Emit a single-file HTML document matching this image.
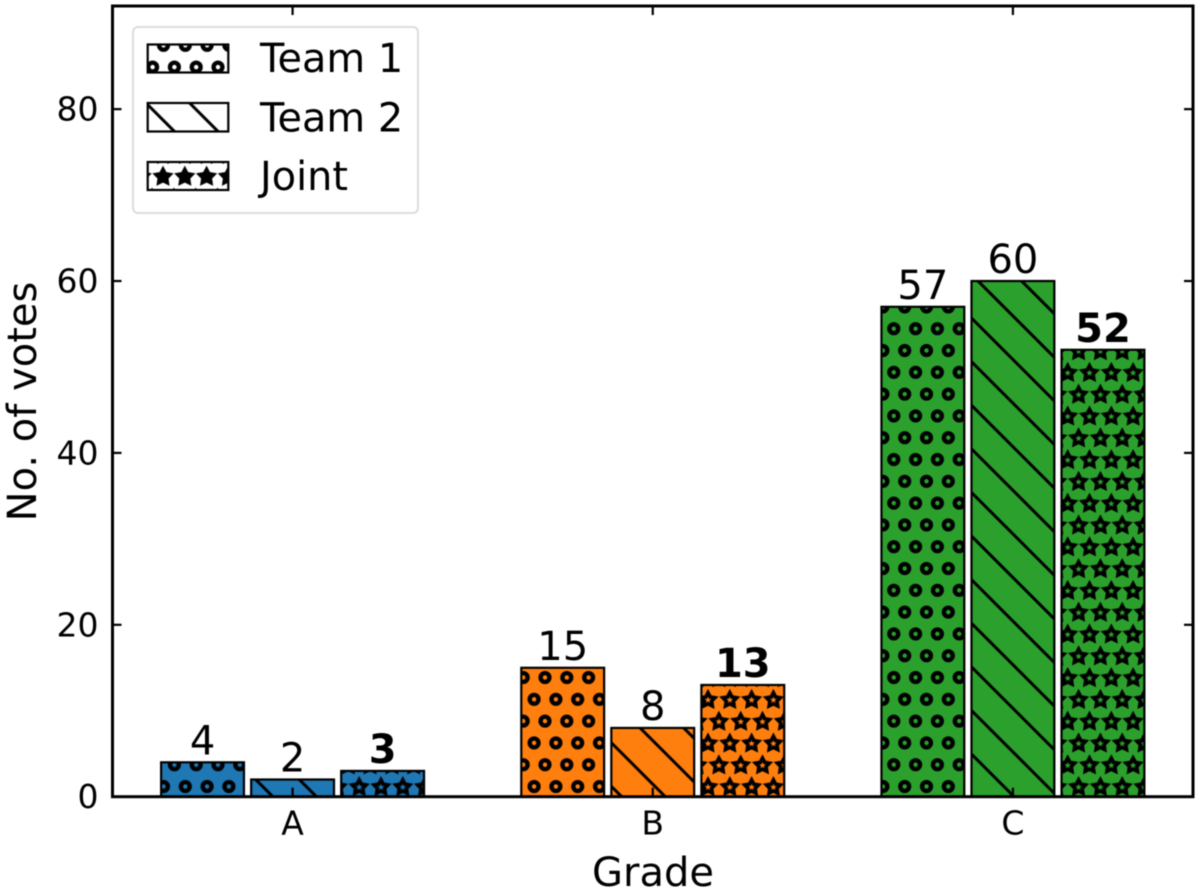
<!DOCTYPE html>
<html lang="en">
<head>
<meta charset="utf-8">
<title>No. of votes by grade</title>
<style>
  html, body { margin: 0; padding: 0; background: #fff; }
  svg { display: block; filter: blur(0.5px); }
  text { font-family: "DejaVu Sans", "Liberation Sans", sans-serif; fill: #000; }
</style>
</head>
<body>
<svg id="chart" xmlns="http://www.w3.org/2000/svg" width="1200" height="892" viewBox="0 0 1200 892">
  <defs>
    <pattern id="hatch-rings" patternUnits="userSpaceOnUse" x="534.1" y="666.6" width="21.8" height="43.6">
      <g fill="none" stroke="#000" stroke-width="4.4">
        <circle cx="10.9" cy="10.9" r="4.4"/>
        <circle cx="0" cy="32.7" r="4.4"/>
        <circle cx="21.8" cy="32.7" r="4.4"/>
      </g>
    </pattern>
    <pattern id="hatch-lines" patternUnits="userSpaceOnUse" x="0" y="0.6" width="43.6" height="43.6">
      <g stroke="#000" stroke-width="3">
        <line x1="-5" y1="-5" x2="49" y2="49"/>
        <line x1="-5" y1="38.6" x2="10" y2="53.6"/>
        <line x1="33.6" y1="-10" x2="53.6" y2="10"/>
      </g>
    </pattern>
    <pattern id="hatch-stars" patternUnits="userSpaceOnUse" x="697.1" y="689.1" width="21.8" height="43.6"></pattern>
    <pattern id="hatch-stars-solid" patternUnits="userSpaceOnUse" x="697.1" y="689.1" width="21.8" height="43.6"></pattern>
  </defs>

  <rect x="112.5" y="6" width="1080.5" height="790.7" fill="#fff"/>
  <g id="bars"></g>
  <g id="value-labels"></g>
  <g id="ticks"></g>
  <rect x="112.5" y="6" width="1080.5" height="790.7" fill="none" stroke="#000" stroke-width="3"/>
  <g id="tick-labels" font-size="33"></g>

  <text x="653" y="886" font-size="40" text-anchor="middle">Grade</text>
  <text transform="translate(36 401.5) rotate(-90)" font-size="40" text-anchor="middle">No. of votes</text>

  <g>
    <rect x="133" y="27" width="285" height="186" rx="5" ry="5" fill="#fff" stroke="#dcdcdc" stroke-width="2"/>
    <g>
      <rect x="147.7" y="44.5" width="80.6" height="28" fill="#fff"/>
      <rect x="147.7" y="44.5" width="80.6" height="28" fill="url(#hatch-rings)" stroke="#000" stroke-width="2.2"/>
      <text x="260" y="72.2" font-size="39.8">Team 1</text>
    </g>
    <g>
      <rect x="147.7" y="103" width="80.6" height="28.5" fill="#fff"/>
      <rect x="147.7" y="103" width="80.6" height="28.5" fill="url(#hatch-lines)" stroke="#000" stroke-width="2.2"/>
      <text x="260" y="131.7" font-size="39.8">Team 2</text>
    </g>
    <g>
      <rect x="147.7" y="162" width="80.6" height="28" fill="#fff"/>
      <rect x="147.7" y="162" width="80.6" height="28" fill="url(#hatch-stars-solid)" stroke="#000" stroke-width="2.2"/>
      <text x="260" y="190.2" font-size="39.8">Joint</text>
    </g>
  </g>
</svg>

<script>
const grades = ['A', 'B', 'C'];
const team1Votes = [4, 15, 57];
const team2Votes = [2, 8, 60];
const jointVotes = [3, 13, 52];
const yTickValues = [0, 20, 40, 60, 80];
const gradeColors = ['#1f77b4', '#ff7f0e', '#2ca02c'];

const NS = 'http://www.w3.org/2000/svg';
const plot = { left: 112.5, right: 1193, top: 6, bottom: 796.7 };
const xDomain = [-0.5, 2.5];
const yDomain = [0, 92];

function xScale(v) {
  return plot.left + (v - xDomain[0]) / (xDomain[1] - xDomain[0]) * (plot.right - plot.left);
}
function yScale(v) {
  return plot.bottom - (v - yDomain[0]) / (yDomain[1] - yDomain[0]) * (plot.bottom - plot.top);
}
function make(tag, attrs) {
  const el = document.createElementNS(NS, tag);
  for (const k in attrs) el.setAttribute(k, attrs[k]);
  return el;
}
function starPoints(cx, cy, R, r) {
  const out = [];
  for (let i = 0; i < 10; i++) {
    const rad = i % 2 ? r : R;
    const a = -Math.PI / 2 + i * Math.PI / 5;
    out.push((cx + rad * Math.cos(a)).toFixed(2) + ' ' + (cy + rad * Math.sin(a)).toFixed(2));
  }
  return 'M' + out.join('L') + 'Z';
}
function fillStarPattern(id, withHole) {
  const centers = [[10.9, 10.9], [10.9, 54.5], [10.9, -32.7], [0, 32.7], [21.8, 32.7], [0, -10.9], [21.8, -10.9]];
  centers.forEach(function (c) {
    const outer = make('path', { d: starPoints(c[0], c[1], 11.2, 5.8) + (withHole ? starPoints(c[0], c[1], 3.4, 1.5) : ''), fill: '#000', 'fill-rule': 'evenodd' });
    document.getElementById(id).appendChild(outer);
  });
}
fillStarPattern('hatch-stars', true);
fillStarPattern('hatch-stars-solid', false);

const series = [
  { key: 'team-1', values: team1Votes, offset: -0.25, hatch: 'hatch-rings', bold: false },
  { key: 'team-2', values: team2Votes, offset: 0, hatch: 'hatch-lines', bold: false },
  { key: 'joint', values: jointVotes, offset: 0.25, hatch: 'hatch-stars', bold: true }
];
const barWidth = 0.23;

const barsGroup = document.getElementById('bars');
const labelsGroup = document.getElementById('value-labels');

series.forEach(function (s) {
  grades.forEach(function (grade, i) {
    const left = xScale(i + s.offset - barWidth / 2);
    const w = xScale(i + s.offset + barWidth / 2) - left;
    const top = yScale(s.values[i]);
    const h = yScale(0) - top;

    const bar = make('rect', { x: left, y: top, width: w, height: h, fill: gradeColors[i] });
    
    
    barsGroup.appendChild(bar);

    const hatch = make('rect', { x: left, y: top, width: w, height: h, fill: 'url(#' + s.hatch + ')', stroke: '#000', 'stroke-width': 2.2 });
    
    
    barsGroup.appendChild(hatch);

    const label = make('text', { x: xScale(i + s.offset), y: top - 8, 'font-size': 40, 'text-anchor': 'middle', 'font-weight': s.bold ? 'bold' : 'normal' });
    
    
    label.textContent = String(s.values[i]);
    labelsGroup.appendChild(label);
  });
});

const ticksGroup = document.getElementById('ticks');
const tickLabelsGroup = document.getElementById('tick-labels');
const tickLen = 9;

function addTick(x1, y1, x2, y2) {
  const t = make('line', { x1: x1, y1: y1, x2: x2, y2: y2, stroke: '#000', 'stroke-width': 2.2 });
  
  
  ticksGroup.appendChild(t);
}

yTickValues.forEach(function (v) {
  const y = yScale(v);
  addTick(plot.left, y, plot.left + tickLen, y);
  addTick(plot.right, y, plot.right - tickLen, y);
  const lab = make('text', { x: 98.5, y: y + 11.5, 'text-anchor': 'end' });
  
  
  lab.textContent = String(v);
  tickLabelsGroup.appendChild(lab);
});

grades.forEach(function (grade, i) {
  const x = xScale(i);
  addTick(x, plot.bottom, x, plot.bottom - tickLen);
  addTick(x, plot.top, x, plot.top + tickLen);
  const lab = make('text', { x: x, y: 834.3, 'text-anchor': 'middle' });
  
  
  lab.textContent = grade;
  tickLabelsGroup.appendChild(lab);
});
</script>
</body>
</html>
